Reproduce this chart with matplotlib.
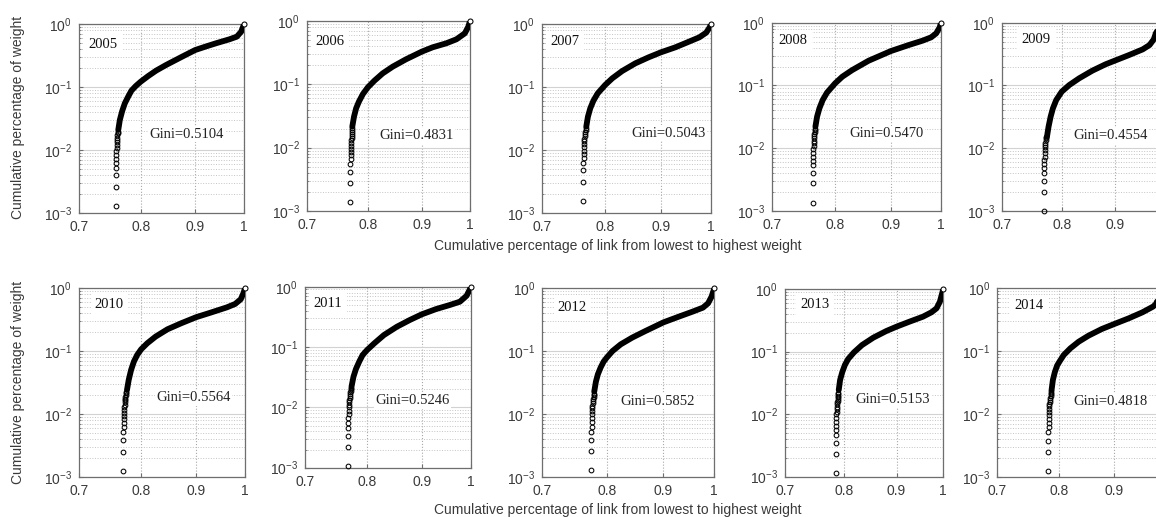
import matplotlib
matplotlib.use('Agg')
import matplotlib.pyplot as plt
from matplotlib.ticker import FixedLocator, FixedFormatter, NullLocator, LogLocator, NullFormatter

plt.rcParams['font.family'] = ['Liberation Sans', 'DejaVu Sans']
plt.rcParams['mathtext.fontset'] = 'custom'
plt.rcParams['mathtext.rm'] = 'Liberation Sans'
plt.rcParams['mathtext.it'] = 'Liberation Sans:italic'
plt.rcParams['mathtext.bf'] = 'Liberation Sans:bold'

# ---------------- data ----------------
years = ['2005', '2006', '2007', '2008', '2009', '2010', '2011', '2012', '2013', '2014']
gini = [0.5104, 0.4831, 0.5043, 0.5470, 0.4554, 0.5564, 0.5246, 0.5852, 0.5153, 0.4818]

x_ticks = [0.7, 0.8, 0.9, 1.0]
x_tick_labels = ['0.7', '0.8', '0.9', '1']
y_ticks = [1e-3, 1e-2, 1e-1, 1e0]
y_tick_labels = [r'$10^{-3}$', r'$10^{-2}$', r'$10^{-1}$', r'$10^{0}$']

# individually visible circles at the low end of each curve
sx_2005 = [0.758, 0.758, 0.758, 0.758, 0.7585, 0.7585, 0.759, 0.759, 0.7595, 0.7595,
           0.760, 0.760, 0.7605, 0.7605, 0.761, 0.761]
sy_2005 = [0.00131, 0.00264, 0.0040, 0.0053, 0.00635, 0.0074, 0.0085, 0.0096, 0.0108, 0.0120,
           0.0133, 0.0146, 0.0159, 0.0172, 0.0185, 0.0198]
sx_2006 = [0.770, 0.770, 0.770, 0.770, 0.7705, 0.7705, 0.771, 0.771, 0.771,
           0.7715, 0.7715, 0.772, 0.772, 0.7725, 0.773, 0.7735, 0.7735]
sy_2006 = [0.0014, 0.0028, 0.0042, 0.0055, 0.0066, 0.0076, 0.0086, 0.0097, 0.0108,
           0.0119, 0.0130, 0.0142, 0.0154, 0.0166, 0.0178, 0.0190, 0.0202]
sx_2007 = [0.764, 0.764, 0.764, 0.764, 0.7645, 0.7645, 0.765, 0.765, 0.7655,
           0.766, 0.766, 0.7665, 0.767, 0.7675, 0.768, 0.7685]
sy_2007 = [0.00153, 0.00308, 0.00477, 0.00617, 0.0073, 0.0085, 0.0097, 0.0110, 0.0124,
           0.0137, 0.0150, 0.0164, 0.0178, 0.0192, 0.0206, 0.0220]
sx_2008 = [0.763, 0.763, 0.763, 0.763, 0.7635, 0.7635, 0.764, 0.764, 0.7645,
           0.765, 0.765, 0.7655, 0.766, 0.766, 0.7665, 0.767, 0.7672]
sy_2008 = [0.00136, 0.00275, 0.00407, 0.00533, 0.00633, 0.0073, 0.0085, 0.0096, 0.0108,
           0.0120, 0.0132, 0.0144, 0.0156, 0.0168, 0.0180, 0.0192, 0.0204]
sx_2009 = [0.769, 0.769, 0.769, 0.769, 0.769, 0.7695, 0.7695, 0.770, 0.770,
           0.7705, 0.771, 0.771, 0.7715, 0.772, 0.772, 0.7725]
sy_2009 = [0.00101, 0.00203, 0.0030, 0.00398, 0.00478, 0.0056, 0.0065, 0.0073, 0.0083,
           0.0093, 0.0103, 0.0113, 0.0123, 0.0133, 0.0143, 0.0150]
sx_2010 = [0.770, 0.770, 0.770, 0.770, 0.7705, 0.7705, 0.771, 0.771, 0.771,
           0.7715, 0.7715, 0.772, 0.772, 0.7725, 0.773, 0.7735, 0.774, 0.7745, 0.775]
sy_2010 = [0.00128, 0.00255, 0.0039, 0.0052, 0.0062, 0.0072, 0.0083, 0.0094, 0.0106,
           0.0118, 0.0130, 0.0142, 0.0154, 0.0166, 0.0178, 0.0190, 0.0202, 0.0214, 0.0226]
sx_2011 = [0.768, 0.768, 0.768, 0.768, 0.7685, 0.7685, 0.769, 0.769, 0.769,
           0.7695, 0.7695, 0.770, 0.7705, 0.771, 0.7715, 0.772, 0.7722, 0.7725, 0.773]
sy_2011 = [0.00108, 0.00223, 0.00335, 0.0046, 0.0056, 0.0066, 0.0077, 0.0088, 0.0100,
           0.0111, 0.0122, 0.0133, 0.0144, 0.0155, 0.0166, 0.0177, 0.0188, 0.0199, 0.0210]
sx_2012 = [0.775, 0.775, 0.775, 0.775, 0.7755, 0.7755, 0.776, 0.776, 0.776,
           0.7765, 0.7765, 0.777, 0.7775, 0.778, 0.7785, 0.779, 0.7792]
sy_2012 = [0.00128, 0.00256, 0.0038, 0.0052, 0.00625, 0.0073, 0.0085, 0.0098, 0.0111,
           0.0124, 0.0136, 0.0149, 0.0161, 0.0174, 0.0186, 0.0199, 0.0211]
sx_2013 = [0.785, 0.785, 0.785, 0.785, 0.7855, 0.7855, 0.786, 0.786, 0.786,
           0.7865, 0.7865, 0.787, 0.787, 0.7875, 0.788, 0.788, 0.7885, 0.789, 0.789, 0.7895]
sy_2013 = [0.00113, 0.00228, 0.00341, 0.00464, 0.0056, 0.0065, 0.0076, 0.0088, 0.0099,
           0.0110, 0.0121, 0.0132, 0.0143, 0.0154, 0.0165, 0.0176, 0.0187, 0.0198, 0.0209, 0.0220]
sx_2014 = [0.781, 0.781, 0.781, 0.781, 0.7815, 0.7815, 0.782, 0.782, 0.782,
           0.7825, 0.7825, 0.783, 0.7835, 0.784, 0.7845, 0.785, 0.7855, 0.786, 0.7862]
sy_2014 = [0.00125, 0.0025, 0.00374, 0.0051, 0.0061, 0.0072, 0.0083, 0.0096, 0.0108,
           0.0120, 0.0132, 0.0144, 0.0156, 0.0168, 0.0180, 0.0192, 0.0204, 0.0216, 0.0228]

# dense part of each curve (overlapping markers)
x_2005 = [0.762, 0.7646, 0.7685, 0.7729, 0.7785, 0.784, 0.7915, 0.800, 0.813, 0.827, 0.845,
          0.875, 0.900, 0.920, 0.941, 0.969, 0.9847, 0.994, 1.0]
y_2005 = [0.021, 0.0303, 0.042, 0.0557, 0.0711, 0.0885, 0.105, 0.123, 0.151, 0.184, 0.226,
          0.307, 0.391, 0.442, 0.499, 0.578, 0.637, 0.765, 1.0]
x_2006 = [0.7733, 0.7762, 0.7798, 0.7845, 0.7915, 0.800, 0.8116, 0.8264, 0.8446, 0.8694,
          0.900, 0.9215, 0.9493, 0.9707, 0.9888, 0.9963, 1.0]
y_2006 = [0.0215, 0.0309, 0.0418, 0.0532, 0.0704, 0.0897, 0.1143, 0.149, 0.190, 0.248,
          0.328, 0.384, 0.444, 0.514, 0.639, 0.814, 1.0]
x_2007 = [0.7689, 0.7716, 0.7754, 0.7806, 0.7877, 0.800, 0.8123, 0.8294, 0.8527, 0.8767,
          0.900, 0.9277, 0.9547, 0.9757, 0.9899, 0.9972, 1.0]
y_2007 = [0.0233, 0.0336, 0.0456, 0.0604, 0.079, 0.107, 0.137, 0.179, 0.237, 0.295,
          0.355, 0.426, 0.524, 0.614, 0.728, 0.885, 1.0]
x_2008 = [0.7675, 0.7702, 0.774, 0.7794, 0.7864, 0.800, 0.8123, 0.8294, 0.8586, 0.900,
          0.9344, 0.9618, 0.9793, 0.9899, 0.9972, 1.0]
y_2008 = [0.022, 0.0318, 0.0432, 0.0586, 0.0767, 0.108, 0.138, 0.176, 0.248, 0.354,
          0.441, 0.517, 0.584, 0.676, 0.843, 1.0]
x_2009 = [0.7742, 0.7769, 0.7805, 0.7845, 0.7903, 0.800, 0.8136, 0.8317, 0.8564, 0.8818,
          0.900, 0.9292, 0.958, 0.9727, 0.9818, 0.9863, 1.0]
y_2009 = [0.0153, 0.022, 0.0318, 0.0432, 0.0586, 0.0796, 0.1016, 0.130, 0.172, 0.217,
          0.248, 0.305, 0.376, 0.441, 0.542, 0.676, 1.0]
x_2010 = [0.776, 0.7789, 0.7829, 0.7876, 0.7932, 0.800, 0.8105, 0.8252, 0.8465, 0.8716,
          0.900, 0.9288, 0.962, 0.979, 0.9909, 0.9965, 1.0]
y_2010 = [0.0243, 0.0351, 0.0506, 0.0686, 0.0875, 0.1076, 0.134, 0.171, 0.2235, 0.278,
          0.347, 0.411, 0.499, 0.564, 0.669, 0.833, 1.0]
x_2011 = [0.7737, 0.777, 0.7811, 0.7866, 0.7924, 0.800, 0.8125, 0.8296, 0.8531, 0.8773,
          0.900, 0.9286, 0.9559, 0.977, 0.9913, 0.9985, 1.0]
y_2011 = [0.022, 0.0322, 0.0432, 0.0571, 0.0737, 0.0891, 0.115, 0.158, 0.217, 0.281,
          0.348, 0.427, 0.497, 0.564, 0.709, 0.915, 1.0]
x_2012 = [0.7796, 0.7823, 0.7855, 0.7899, 0.7949, 0.800, 0.8098, 0.8236, 0.8435, 0.867,
          0.900, 0.9292, 0.956, 0.9767, 0.9872, 0.9943, 1.0]
y_2012 = [0.0226, 0.0326, 0.0427, 0.0545, 0.0679, 0.0786, 0.1004, 0.128, 0.164, 0.209,
          0.287, 0.354, 0.425, 0.492, 0.577, 0.736, 1.0]
x_2013 = [0.7901, 0.7925, 0.7963, 0.8011, 0.807, 0.8177, 0.8326, 0.8542, 0.8795, 0.900,
          0.9264, 0.9552, 0.9736, 0.9849, 0.9924, 1.0]
y_2013 = [0.0243, 0.0351, 0.0466, 0.061, 0.076, 0.0972, 0.127, 0.167, 0.213, 0.250,
          0.300, 0.361, 0.424, 0.491, 0.628, 1.0]
x_2014 = [0.7866, 0.7888, 0.792, 0.7959, 0.800, 0.8074, 0.819, 0.8337, 0.8515, 0.8763,
          0.900, 0.9286, 0.9563, 0.978, 0.9838, 1.0]
y_2014 = [0.024, 0.0347, 0.0459, 0.0586, 0.0679, 0.0867, 0.1107, 0.141, 0.176, 0.225,
          0.270, 0.333, 0.415, 0.510, 0.556, 1.0]

dense_x = [x_2005, x_2006, x_2007, x_2008, x_2009, x_2010, x_2011, x_2012, x_2013, x_2014]
dense_y = [y_2005, y_2006, y_2007, y_2008, y_2009, y_2010, y_2011, y_2012, y_2013, y_2014]
sparse_x = [sx_2005, sx_2006, sx_2007, sx_2008, sx_2009, sx_2010, sx_2011, sx_2012, sx_2013, sx_2014]
sparse_y = [sy_2005, sy_2006, sy_2007, sy_2008, sy_2009, sy_2010, sy_2011, sy_2012, sy_2013, sy_2014]

# ---------------- layout (pixels: left, top, right, bottom) ----------------
W, H = 1156, 517
boxes = [
    (79, 24.3, 244, 213.3), (306.7, 21, 470, 211), (541.7, 24, 711, 212.7),
    (771.7, 22.7, 941, 211), (1001.7, 22.7, 1162, 211),
    (79, 288.3, 245, 477.3), (305, 286.7, 470.7, 467.7), (542.3, 288.3, 714.3, 476.7),
    (785, 289, 943.3, 476.7), (997.3, 288.3, 1163.3, 476.7),
]
year_pos = [(0.144, 0.894), (0.143, 0.89), (0.137, 0.906), (0.127, 0.905), (0.214, 0.91),
            (0.183, 0.915), (0.14, 0.908), (0.175, 0.90), (0.19, 0.915), (0.19, 0.91)]
gini_pos = [(0.65, 0.418), (0.67, 0.395), (0.75, 0.42), (0.68, 0.41), (0.68, 0.40),
            (0.69, 0.42), (0.65, 0.37), (0.67, 0.40), (0.68, 0.41), (0.68, 0.40)]

fig = plt.figure(figsize=(W / 100, H / 100), dpi=100)

for i in range(len(years)):
    l, t, r, b = boxes[i]
    ax = fig.add_axes([l / W, (H - b) / H, (r - l) / W, (b - t) / H])
    ax.set_xscale('log')
    ax.set_yscale('log')
    ax.set_xlim(0.7, 1.0)
    ax.set_ylim(1e-3, 1.0)
    # panels cut by the right edge of the picture show no "1" label
    labels = list(x_tick_labels)
    if r > W - 2:
        labels[-1] = ''
    ax.xaxis.set_major_locator(FixedLocator(x_ticks))
    ax.xaxis.set_major_formatter(FixedFormatter(labels))
    ax.xaxis.set_minor_locator(NullLocator())
    ax.yaxis.set_major_locator(FixedLocator(y_ticks))
    ax.yaxis.set_major_formatter(FixedFormatter(y_tick_labels))
    ax.yaxis.set_minor_locator(LogLocator(base=10, subs=[2, 3, 4, 5, 6, 7, 8, 9]))
    ax.yaxis.set_minor_formatter(NullFormatter())
    ax.set_axisbelow(True)
    ax.grid(True, axis='x', which='major', color='#a8a8a8', linestyle=':', linewidth=0.8)
    ax.grid(True, axis='y', which='major', color='#d2d2d2', linestyle='-', linewidth=0.8)
    ax.grid(True, axis='y', which='minor', color='#c4c4c4', linestyle=':', linewidth=0.7)
    for sp in ax.spines.values():
        sp.set_color('#6e6e6e')
        sp.set_linewidth(0.9)
    ax.tick_params(which='both', direction='in', colors='#6e6e6e', labelcolor='#3a3a3a',
                   labelsize=10)
    ax.tick_params(which='major', length=3, pad=5)
    ax.tick_params(which='minor', length=1.5)

    ax.plot(dense_x[i], dense_y[i], '-', color='black', lw=4.2, solid_capstyle='round',
            solid_joinstyle='round', zorder=3)
    ax.plot(sparse_x[i], sparse_y[i], 'o', mfc='none', mec='black', ms=3.4, mew=0.75,
            zorder=3, clip_on=False)
    ax.plot(dense_x[i][-1:], dense_y[i][-1:], 'o', mfc='white', mec='black', ms=3.6, mew=0.75,
            zorder=4, clip_on=False)

    yx, yy = year_pos[i]
    ax.text(yx, yy, years[i], transform=ax.transAxes, ha='center', va='center',
            family='Liberation Serif', fontsize=10.5, color='#111111', zorder=5,
            bbox=dict(facecolor='white', edgecolor='none', pad=3))
    gx, gy = gini_pos[i]
    ax.text(gx, gy, 'Gini=%.4f' % gini[i], transform=ax.transAxes, ha='center', va='center',
            family='Liberation Serif', fontsize=10.5, color='#222222', zorder=5,
            bbox=dict(facecolor='white', edgecolor='none', pad=1))

label_color = '#3a3a3a'
fig.text(18 / W, 1 - 117 / H, 'Cumulative percentage of weight', rotation=90,
         ha='center', va='center', fontsize=10, color=label_color)
fig.text(18 / W, 1 - 382 / H, 'Cumulative percentage of weight', rotation=90,
         ha='center', va='center', fontsize=10, color=label_color)
fig.text(618 / W, 1 - 246 / H, 'Cumulative percentage of link from lowest to highest weight',
         ha='center', va='center', fontsize=10, color=label_color)
fig.text(618 / W, 1 - 510 / H, 'Cumulative percentage of link from lowest to highest weight',
         ha='center', va='center', fontsize=10, color=label_color)

fig.savefig('out.png', dpi=100, facecolor='white')
